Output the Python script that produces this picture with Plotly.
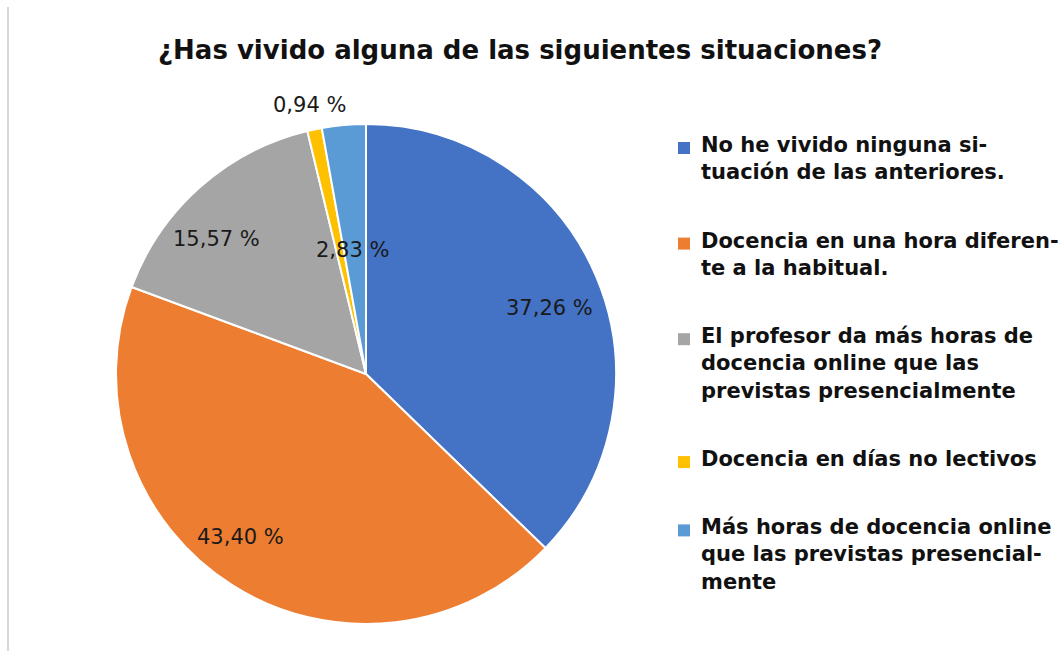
import numpy as np
import plotly.graph_objects as go

# data
categories = [
    "No he vivido ninguna situación de las anteriores.",
    "Docencia en una hora diferente a la habitual.",
    "El profesor da más horas de docencia online que las previstas presencialmente",
    "Docencia en días no lectivos",
    "Más horas de docencia online que las previstas presencialmente",
]
legend_text = [
    "No he vivido ninguna si-<br>tuación de las anteriores.",
    "Docencia en una hora diferen-<br>te a la habitual.",
    "El profesor da más horas de<br>docencia online que las<br>previstas presencialmente",
    "Docencia en días no lectivos",
    "Más horas de docencia online<br>que las previstas presencial-<br>mente",
]
values = [37.26, 43.40, 15.57, 0.94, 2.83]
colors = ["#4472C4", "#ED7D31", "#A5A5A5", "#FFC000", "#5B9BD5"]

# layout
W, H = 1059, 651
dom_x = [116 / W, 616 / W]
dom_y = [(H - 624) / H, (H - 124) / H]
label_r = [0.78, 0.824, 0.807, 1.10, 0.50]  # label distance, fraction of radius
label_dang = [3.0, 5.4, -6.4, 0.0, -1.3]     # nudge from the bisector, degrees
FONT = "DejaVu Sans"

fig = go.Figure(go.Pie(
    labels=categories,
    values=values,
    sort=False,
    direction="clockwise",
    rotation=0,
    marker=dict(colors=colors, line=dict(color="white", width=2)),
    textinfo="none",
    showlegend=False,
    hoverinfo="label+percent",
    domain=dict(x=dom_x, y=dom_y),
))

# percentage labels along each slice bisector
cx = (dom_x[0] + dom_x[1]) / 2 * W
cy = (dom_y[0] + dom_y[1]) / 2 * H
R = min((dom_x[1] - dom_x[0]) * W, (dom_y[1] - dom_y[0]) * H) / 2
total = sum(values)
cum = np.cumsum([0] + values[:-1])
for v, c0, rf, da in zip(values, cum, label_r, label_dang):
    ang = np.deg2rad((c0 + v / 2) / total * 360 + da)
    x = cx + rf * R * np.sin(ang)
    y = cy + rf * R * np.cos(ang)
    fig.add_annotation(
        x=x / W, y=y / H, xref="paper", yref="paper",
        text=f"{v:.2f}".replace(".", ",") + " %",
        showarrow=False, xanchor="center", yanchor="middle",
        font=dict(family=FONT, size=21, color="#1a1a1a"),
    )

# legend drawn by hand to get the spacing of the original
line_h = 27.3
gap = 41
top = 131
for txt, col in zip(legend_text, colors):
    n = txt.count("<br>") + 1
    fig.add_annotation(
        x=699 / W, y=1 - top / H, xref="paper", yref="paper",
        text=txt, align="left", showarrow=False,
        xanchor="left", yanchor="top",
        font=dict(family=FONT, size=21, color="#111111", weight="bold"),
    )
    fig.add_shape(
        type="rect", xref="paper", yref="paper",
        x0=678 / W, x1=690 / W,
        y0=1 - (top + 11) / H, y1=1 - (top + 23) / H,
        fillcolor=col, line=dict(width=0),
    )
    top += n * line_h + gap

# title
fig.add_annotation(
    x=520 / W, y=1 - 50 / H, xref="paper", yref="paper",
    text="<b>¿Has vivido alguna de las siguientes situaciones?</b>",
    showarrow=False, xanchor="center", yanchor="middle",
    font=dict(family=FONT, size=26, color="#111111"),
)

# thin frame line on the left
fig.add_shape(
    type="line", xref="paper", yref="paper",
    x0=8 / W, x1=8 / W, y0=0, y1=1 - 7 / H,
    line=dict(color="#d9d9d9", width=2),
)

fig.update_layout(
    width=W, height=H,
    margin=dict(l=0, r=0, t=0, b=0),
    paper_bgcolor="white",
    plot_bgcolor="white",
)

fig.write_html(
    "out.html",
    config={"displayModeBar": False},
    post_script="document.body.style.margin='0';",
)
